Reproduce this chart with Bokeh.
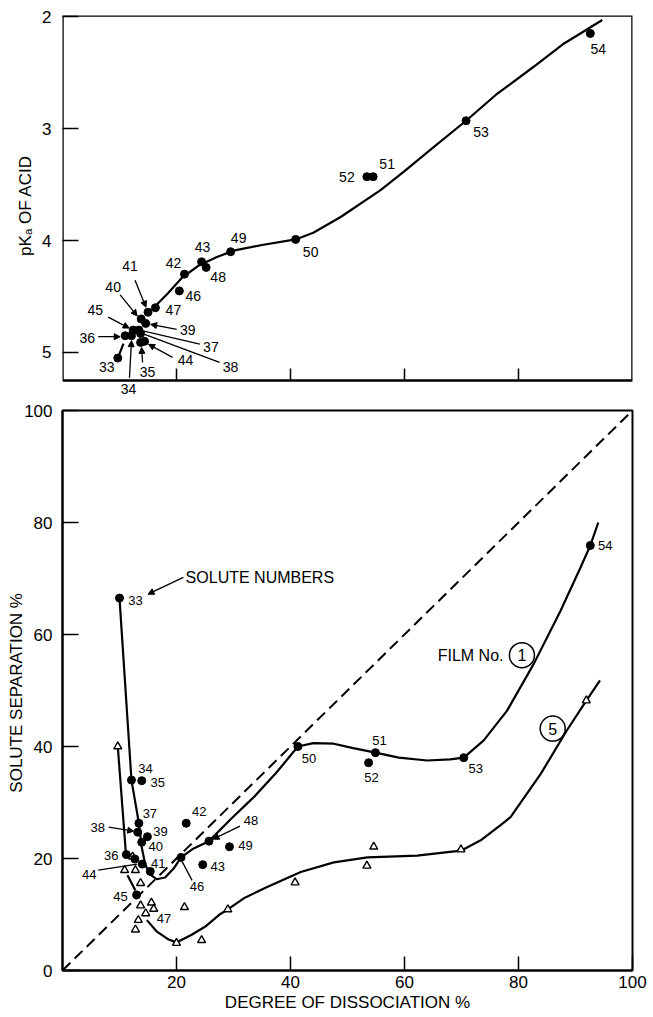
from bokeh.plotting import figure
from bokeh.layouts import column
from bokeh.models import Range1d, FixedTicker, ColumnDataSource, Arrow, NormalHead, LabelSet
from bokeh.core.properties import value
from bokeh.embed import file_html
from bokeh.resources import INLINE

FONT = "Liberation Sans"
NAN = float("nan")

# ---------------- data ----------------
# Upper panel: pKa of each acid against its degree of dissociation (%)
pka_ids = ["33", "34", "35", "36", "37", "38", "39", "40", "41", "42", "43",
           "44", "45", "46", "47", "48", "49", "50", "51", "52", "53", "54"]
pka_dissoc = [9.7, 12.1, 13.7, 11.0, 13.4, 13.7, 14.6, 13.8, 15.0, 21.4, 24.4,
              14.4, 12.4, 20.5, 16.3, 25.2, 29.5, 40.9, 54.5, 53.4, 70.8, 92.6]
pka_values = [5.05, 4.85, 4.91, 4.85, 4.80, 4.83, 4.74, 4.70, 4.64, 4.30, 4.19,
              4.90, 4.80, 4.45, 4.60, 4.24, 4.10, 3.99, 3.43, 3.43, 2.93, 2.15]
# hand-drawn trend through the pKa points (NaN = pen lifted)
pka_curve_x = [9.7, 10.7, NAN, 16.0, 18.5, 21.0, 24.0, 27.0, 30.0, 35.0, 40.9,
               44.0, 48.8, 55.8, 60.0, 65.0, 70.8, 76.0, 82.6, 88.0, 94.7]
pka_curve_y = [5.05, 4.92, NAN, 4.60, 4.47, 4.33, 4.22, 4.15, 4.09, 4.04, 3.99,
               3.93, 3.79, 3.55, 3.38, 3.17, 2.93, 2.70, 2.45, 2.24, 2.03]

# Lower panel: solute separation (%) for film No. 1 (dots)
sep1_ids = pka_ids
sep1_dissoc = [10.0, 12.1, 13.9, 11.2, 13.4, 13.2, 14.9, 13.9, 15.4, 21.7, 24.6,
               14.0, 13.0, 20.8, 12.7, 25.7, 29.3, 41.3, 54.9, 53.7, 70.4, 92.6]
sep1_values = [66.5, 34.0, 33.9, 20.7, 26.3, 24.7, 23.9, 22.9, 17.7, 26.3, 18.9,
               19.0, 13.5, 20.2, 19.9, 23.1, 22.1, 40.0, 38.9, 37.1, 38.0, 75.9]
sep1_curve_x = [10.0, 12.1, 13.4, 13.9, 14.5, 15.3, 16.5, 18.0, 19.5, 20.8, 23.0,
                25.7, 29.5, 33.6, 37.5, 41.3, 44.0, 47.6, 51.0, 54.9, 59.0, 64.0,
                68.0, 70.4, 73.9, 78.0, 82.7, 87.4, 90.9, 92.6, 94.0]
sep1_curve_y = [66.5, 34.0, 26.3, 22.0, 19.0, 17.2, 16.3, 16.6, 18.2, 20.2, 21.8,
                23.1, 27.0, 31.0, 35.3, 40.0, 40.6, 40.5, 39.7, 38.9, 38.0, 37.5,
                37.7, 38.0, 41.1, 46.4, 54.8, 64.3, 72.0, 75.9, 80.0]

# film No. 5 (open triangles)
sep5_dissoc = [9.7, 12.3, 10.9, 12.8, 13.7, 13.7, 15.6, 16.0, 14.6, 13.3, 12.8,
               21.4, 20.0, 24.4, 29.0, 40.8, 53.4, 54.6, 69.9, 91.9]
sep5_values = [40.0, 20.3, 17.9, 17.9, 15.6, 11.6, 12.1, 11.0, 10.2, 9.0, 7.3,
               11.3, 4.9, 5.4, 10.9, 15.7, 18.7, 22.1, 21.6, 48.2]
sep5_curve_x = [9.7, 11.1, NAN, 11.4, 12.8, NAN, 14.8, 16.5, 18.5, 20.0, 22.5,
                25.0, 27.7, 29.0, 32.0, 35.9, 41.8, 47.6, 53.5, 62.2, 69.9, 73.3,
                76.8, 78.6, 83.9, 88.5, 91.9, 94.3]
sep5_curve_y = [40.0, 21.2, NAN, 17.0, 14.3, NAN, 9.0, 7.0, 5.6, 5.0, 6.3,
                7.8, 10.1, 10.9, 13.0, 14.9, 17.6, 19.3, 20.2, 20.5, 21.4, 23.2,
                25.9, 27.4, 35.1, 42.9, 48.2, 51.8]

# separation = dissociation reference line
parity_x = [0, 100]
parity_y = [0, 100]

dissoc_ticks = [20, 40, 60, 80, 100]
pka_ticks = [2, 3, 4, 5]
sep_ticks = [0, 20, 40, 60, 80, 100]

# ---------------- layout ----------------
W = 653
LEFT, RIGHT = 62, 21
FRAME_W = W - LEFT - RIGHT
SX = FRAME_W / 100.0                # px per % dissociation
PKA_TOP, PKA_BOX_BOTTOM = 1.99, 5.25       # drawn box of the upper panel
SY_TOP = 111.96                            # px per pKa unit, pointing down
TOP_FRAME_H = 380                          # frame runs a little below the box
PKA_FRAME_BOTTOM = PKA_TOP + TOP_FRAME_H / SY_TOP
BOT_FRAME_H = 560
SY_BOT = -BOT_FRAME_H / 100.0              # px per % separation, pointing down

# label placement relative to each point (screen px: dx right, dy down)
pka_label_off = {
    "33": (-11, 9), "34": (-3, 53), "35": (7, 30), "36": (-38, 2), "37": (72, 17),
    "38": (90, 34), "39": (42, 7), "40": (-28, -32), "41": (-18, -46),
    "42": (-11, -11), "43": (1, -15), "44": (41, 19), "45": (-38, -20),
    "46": (14, 5), "47": (18, 2), "48": (12, 10), "49": (8, -14), "50": (15, 13),
    "51": (14, -13), "52": (-20, 0), "53": (15, 11), "54": (8, 16),
}
# leader lines: start (dx, dy), end (dx, dy), arrow head
pka_leaders = {
    "34": (-2, 42, 0, 5, True), "35": (2, 20, 1, 5, True), "36": (-27, 1, -5, 1, True),
    "37": (61, 14, 5, 1, False), "38": (79, 29, 4, 1, False), "39": (31, 6, 5, 1, True),
    "40": (-21, -24, -4, -3, True), "41": (-13, -32, -2, -5, True),
    "44": (28, 16, 4, 3, True), "45": (-25, -13, -4, -2, True),
}
sep_label_off = {
    "33": (16, 2), "34": (14, -12), "35": (16, 2), "36": (-15, 1), "37": (11, -10),
    "38": (-40, -5), "39": (13, -5), "40": (14, 4), "41": (8, -8), "42": (13, -12),
    "43": (15, 2), "44": (-53, 10), "45": (-16, 2), "46": (16, 29), "47": (29, 59),
    "48": (42, -21), "49": (16, -1), "50": (11, 12), "51": (4, -12), "52": (3, 15),
    "53": (12, 11), "54": (15, 0),
}
sep_leaders = {
    "38": (-29, -5, -4, -1, True), "44": (-44, 6, -5, 0, False),
    "46": (11, 23, 1, 4, False), "48": (31, -15, 4, -2, True),
}


def label_source(ids, xs, ys, offsets, sy):
    lx, ly, txt = [], [], []
    for i, x, y in zip(ids, xs, ys):
        dx, dy = offsets[i]
        lx.append(x + dx / SX)
        ly.append(y + dy / sy)
        txt.append(i)
    return ColumnDataSource(dict(x=lx, y=ly, t=txt))


def add_leaders(fig, ids, xs, ys, spec, sy):
    pos = {i: (x, y) for i, x, y in zip(ids, xs, ys)}
    heads = dict(x0=[], y0=[], x1=[], y1=[])
    plain = dict(x0=[], y0=[], x1=[], y1=[])
    for i, (sdx, sdy, edx, edy, head) in spec.items():
        x, y = pos[i]
        d = heads if head else plain
        d["x0"].append(x + sdx / SX)
        d["y0"].append(y + sdy / sy)
        d["x1"].append(x + edx / SX)
        d["y1"].append(y + edy / sy)
    fig.segment(x0="x0", y0="y0", x1="x1", y1="y1", source=ColumnDataSource(plain),
                line_color="black", line_width=1.3)
    fig.add_layout(Arrow(x_start="x0", y_start="y0", x_end="x1", y_end="y1",
                         source=ColumnDataSource(heads), line_width=1.3,
                         end=NormalHead(size=6, fill_color="black", line_color="black")))


def add_point_labels(fig, src, size):
    fig.add_layout(LabelSet(x="x", y="y", text="t", source=src, text_font=value(FONT),
                            text_font_size=size, text_align="center",
                            text_baseline="middle", text_color="black"))


def style(fig):
    fig.grid.visible = False
    fig.outline_line_color = "black"
    fig.outline_line_width = 2
    for ax in fig.axis:
        ax.axis_line_width = 2
        ax.major_tick_in = 14
        ax.major_tick_out = 0
        ax.minor_tick_line_color = None
        ax.major_tick_line_width = 1.5
        ax.major_label_text_font = FONT
        ax.major_label_text_font_size = "17px"
        ax.major_label_text_color = "black"
        ax.axis_label_text_font = FONT
        ax.axis_label_text_font_style = "normal"
        ax.axis_label_text_font_size = "17px"
        ax.axis_label_text_color = "black"


# ---------------- upper panel ----------------
p1 = figure(width=W, height=400, x_range=Range1d(0, 100),
            y_range=Range1d(PKA_FRAME_BOTTOM, PKA_TOP),
            output_backend="svg", toolbar_location=None,
            min_border_left=LEFT, min_border_right=RIGHT, min_border_top=15, min_border_bottom=5)
p1.xaxis.visible = False
style(p1)
p1.outline_line_color = None
p1.yaxis.axis_line_color = None
p1.yaxis.ticker = FixedTicker(ticks=pka_ticks)
p1.yaxis.major_tick_in = 16
p1.yaxis.major_label_standoff = 11
p1.yaxis.axis_label = "pKₐ OF ACID"
p1.yaxis.axis_label_standoff = 4

# box around the upper panel
p1.line([0, 0, 100, 100, 0], [PKA_BOX_BOTTOM, PKA_TOP, PKA_TOP, PKA_BOX_BOTTOM, PKA_BOX_BOTTOM],
        line_color="black", line_width=2.5)

# inward tick marks on the lower edge (no numbers on this panel)
top_ticks = dissoc_ticks[:-1]
p1.segment(x0=top_ticks, y0=[PKA_BOX_BOTTOM] * len(top_ticks), x1=top_ticks,
           y1=[PKA_BOX_BOTTOM - 12 / SY_TOP] * len(top_ticks), line_color="black", line_width=1.5)

p1.line(pka_curve_x, pka_curve_y, line_color="black", line_width=2.2)
p1.scatter(pka_dissoc, pka_values, marker="circle", size=8, fill_color="black", line_color="black")
add_leaders(p1, pka_ids, pka_dissoc, pka_values, pka_leaders, SY_TOP)
add_point_labels(p1, label_source(pka_ids, pka_dissoc, pka_values, pka_label_off, SY_TOP), "14px")

# ---------------- lower panel ----------------
p2 = figure(width=W, height=617, x_range=Range1d(0, 100), y_range=Range1d(0, 100),
            output_backend="svg", toolbar_location=None,
            min_border_left=LEFT, min_border_right=RIGHT, min_border_top=10, min_border_bottom=47)
style(p2)
p2.xaxis.ticker = FixedTicker(ticks=dissoc_ticks)
p2.xaxis.major_tick_in = 14
p2.xaxis.major_label_standoff = 5
p2.xaxis.axis_label = "DEGREE OF DISSOCIATION %"
p2.xaxis.axis_label_standoff = 2
p2.yaxis.ticker = FixedTicker(ticks=sep_ticks)
p2.yaxis.major_tick_in = 16
p2.yaxis.major_label_standoff = 10
p2.yaxis.axis_label = "SOLUTE  SEPARATION %"
p2.yaxis.axis_label_standoff = -5

p2.line(parity_x, parity_y, line_color="black", line_width=2, line_dash="11 6")
p2.line(sep1_curve_x, sep1_curve_y, line_color="black", line_width=2.2)
p2.line(sep5_curve_x, sep5_curve_y, line_color="black", line_width=2.2)
p2.scatter(sep5_dissoc, sep5_values, marker="triangle", size=8, fill_color="white",
           line_color="black", line_width=1.4)
p2.scatter(sep1_dissoc, sep1_values, marker="circle", size=8, fill_color="black", line_color="black")
add_leaders(p2, sep1_ids, sep1_dissoc, sep1_values, sep_leaders, SY_BOT)
add_point_labels(p2, label_source(sep1_ids, sep1_dissoc, sep1_values, sep_label_off, SY_BOT), "13px")

# annotations
p2.text(x=[21.6], y=[70.2], text=["SOLUTE NUMBERS"], text_font=value(FONT), text_font_size="16px",
        text_align="left", text_baseline="middle", text_color="black")
p2.add_layout(Arrow(x_start=21.2, y_start=70.2, x_end=15.0, y_end=67.2, line_width=1.3,
                    end=NormalHead(size=6, fill_color="black", line_color="black")))
p2.text(x=[71.6], y=[56.3], text=["FILM No."], text_font=value(FONT), text_font_size="16px",
        text_align="center", text_baseline="middle", text_color="black")
p2.scatter([80.6, 86.0], [56.3, 43.2], marker="circle", size=25, fill_color=None,
           line_color="black", line_width=1.5)
p2.text(x=[80.6, 86.0], y=[56.3, 43.2], text=["1", "5"], text_font=value(FONT), text_font_size="16px",
        text_align="center", text_baseline="middle", text_color="black")

layout = column(p1, p2, spacing=0)
open("out.html", "w").write(file_html(layout, INLINE))
